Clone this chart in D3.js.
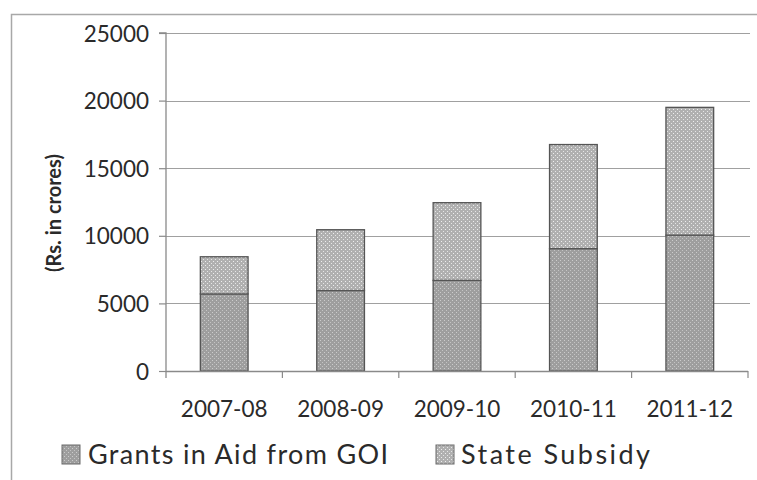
<!DOCTYPE html>
<html>
<head>
<meta charset="utf-8">
<script src="https://cdn.jsdelivr.net/npm/d3@7"></script>
<style>
  html, body { margin: 0; padding: 0; background: #fff; }
  svg { display: block; }
</style>
</head>
<body>
<svg id="chart" width="757" height="480"></svg>
<script>
// Funding by year (Rs. in crores)
const years = ["2007-08", "2008-09", "2009-10", "2010-11", "2011-12"];
const grantsInAid = [5700, 5950, 6700, 9050, 10050];
const stateSubsidy = [2750, 4500, 5750, 7700, 9450];
const yTicks = [0, 5000, 10000, 15000, 20000, 25000];
const seriesNames = ["Grants in Aid from GOI", "State Subsidy"];

const svg = d3.select("#chart");
const font = "Lato, 'Open Sans', sans-serif";
const textColor = "#2a2a2a";

const margin = { left: 166, right: 9, top: 33, bottom: 109 };
const W = 757, H = 480;

// Dotted fills for the two series
const defs = svg.append("defs");
const pg = defs.append("pattern").attr("id", "pat-grants")
  .attr("width", 4).attr("height", 4).attr("patternUnits", "userSpaceOnUse");
pg.append("rect").attr("width", 4).attr("height", 4).attr("fill", "#9e9e9e");
pg.append("rect").attr("x", 0).attr("y", 0).attr("width", 1).attr("height", 1).attr("fill", "#cccccc");
pg.append("rect").attr("x", 2).attr("y", 2).attr("width", 1).attr("height", 1).attr("fill", "#c4c4c4");

const ps = defs.append("pattern").attr("id", "pat-subsidy")
  .attr("width", 4).attr("height", 4).attr("patternUnits", "userSpaceOnUse");
ps.append("rect").attr("width", 4).attr("height", 4).attr("fill", "#b0b0b0");
ps.append("rect").attr("x", 1).attr("y", 1).attr("width", 1).attr("height", 1).attr("fill", "#eeeeee");
ps.append("rect").attr("x", 3).attr("y", 3).attr("width", 1).attr("height", 1).attr("fill", "#e6e6e6");

// Outer frame
svg.append("rect").attr("x", 11.5).attr("y", 14.5)
  .attr("width", W + 20).attr("height", H + 20)
  .attr("fill", "none").attr("stroke", "#a8a8a8").attr("stroke-width", 1.5);

const x = d3.scaleBand().domain(years)
  .range([margin.left, W - margin.right]).paddingInner(0.59).paddingOuter(0.295);
const xOuter = d3.scaleBand().domain(years)
  .range([margin.left, W - margin.right]).padding(0);
const y = d3.scaleLinear().domain([0, 25000]).range([H - margin.bottom, margin.top]);

// Horizontal gridlines
svg.append("g").selectAll("line").data(yTicks.filter(d => d > 0)).join("line")
  .attr("x1", margin.left).attr("x2", W - margin.right + 2)
  .attr("y1", d => Math.round(y(d)) + 0.5).attr("y2", d => Math.round(y(d)) + 0.5)
  .attr("stroke", "#a0a0a0").attr("stroke-width", 1.2);

// Stacked bars
const stackData = years.map((yr, i) => ({ year: yr, grants: grantsInAid[i], subsidy: stateSubsidy[i] }));
const stack = d3.stack().keys(["grants", "subsidy"])(stackData);
const fills = ["url(#pat-grants)", "url(#pat-subsidy)"];

svg.append("g").selectAll("g").data(stack).join("g")
  .attr("fill", (d, i) => fills[i])
  .selectAll("rect").data(d => d).join("rect")
  .attr("x", d => x(d.data.year))
  .attr("width", x.bandwidth())
  .attr("y", d => y(d[1]))
  .attr("height", d => y(d[0]) - y(d[1]))
  .attr("stroke", "#555").attr("stroke-width", 1.3);

// Y axis
const yAxis = d3.axisLeft(y).tickValues(yTicks).tickSize(7).tickPadding(10).tickFormat(d3.format("d"));
const gy = svg.append("g").attr("transform", `translate(${margin.left},0)`).call(yAxis);
gy.select(".domain").attr("stroke", "#8a8a8a").attr("stroke-width", 1.3)
  .attr("d", `M-7,${y(25000)}H0V${y(0) + 7}`);
gy.selectAll(".tick line").attr("stroke", "#8a8a8a").attr("stroke-width", 1.2);
gy.selectAll(".tick text").attr("font-family", font).attr("font-size", 22.5)
  .attr("fill", textColor).attr("dy", "0.36em");

// X axis
const xAxis = d3.axisBottom(x).tickSize(0).tickPadding(30);
const gx = svg.append("g").attr("transform", `translate(0,${y(0)})`).call(xAxis);
gx.select(".domain").attr("stroke", "#8a8a8a").attr("stroke-width", 1.3)
  .attr("d", `M${margin.left},0.5H${W - margin.right}`);
gx.selectAll(".tick text").attr("font-family", font).attr("font-size", 22.5).attr("fill", textColor);

// Category separator ticks
svg.append("g").selectAll("line").data(years.slice(1).concat(["__end"])).join("line")
  .attr("x1", d => d === "__end" ? W - margin.right : xOuter(d))
  .attr("x2", d => d === "__end" ? W - margin.right : xOuter(d))
  .attr("y1", y(0)).attr("y2", y(0) + 7)
  .attr("stroke", "#8a8a8a").attr("stroke-width", 1.2);

// Y axis title
svg.append("text")
  .attr("transform", `translate(61,${(y(0) + y(25000)) / 2 + 11}) rotate(-90)`)
  .attr("text-anchor", "middle")
  .attr("font-family", font).attr("font-weight", "bold").attr("font-size", 20)
  .attr("fill", textColor)
  .text("(Rs. in crores)");

// Legend
const legend = [
  { name: seriesNames[0], fill: fills[0], sx: 62, tx: 88, tw: 300 },
  { name: seriesNames[1], fill: fills[1], sx: 436, tx: 461, tw: 189 }
];
const lg = svg.append("g").selectAll("g").data(legend).join("g");
lg.append("rect").attr("x", d => d.sx).attr("y", 445).attr("width", 18).attr("height", 19)
  .attr("fill", d => d.fill).attr("stroke", "#6a6a6a").attr("stroke-width", 1);
lg.append("text").attr("x", d => d.tx).attr("y", 464)
  .attr("font-family", font).attr("font-size", 27).attr("fill", textColor)
  .attr("textLength", d => d.tw).attr("lengthAdjust", "spacing")
  .text(d => d.name);
</script>
</body>
</html>
